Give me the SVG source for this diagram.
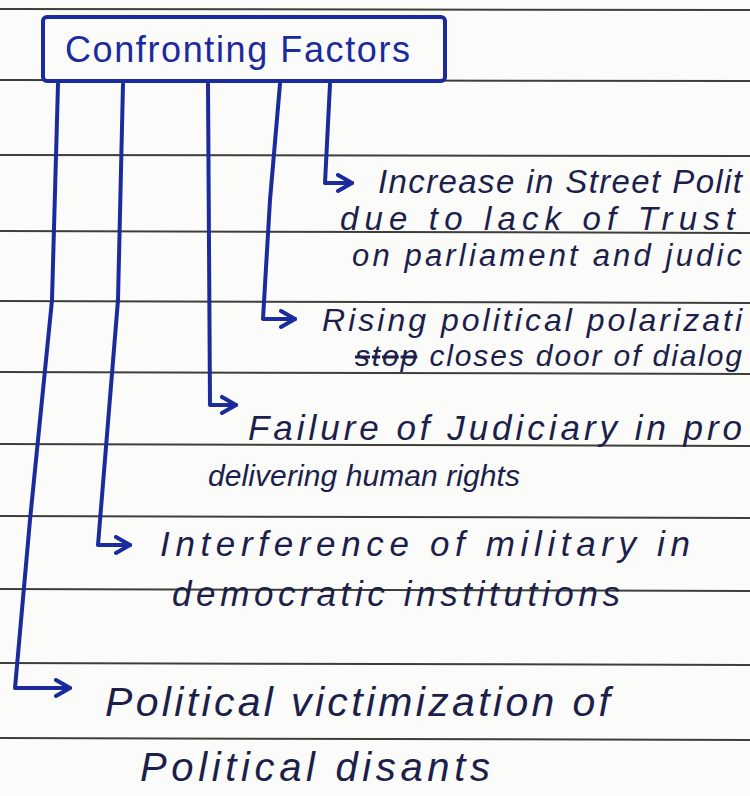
<svg xmlns="http://www.w3.org/2000/svg" width="750" height="796" viewBox="0 0 750 796">
<defs>
<style>
.rule{stroke:#3f3f3a;stroke-width:2;}
.ink{font-family:"Liberation Sans","DejaVu Sans",sans-serif;font-style:italic;fill:#1c1f4a;}
.conn{fill:none;stroke:#1b2a9c;stroke-width:4;stroke-linecap:round;stroke-linejoin:round;}
.title{font-family:"Liberation Sans","DejaVu Sans",sans-serif;fill:#1b2a9c;font-size:36px;}
</style>
<marker id="arr" markerUnits="userSpaceOnUse" markerWidth="24" markerHeight="24" refX="16" refY="10" orient="auto">
<path d="M2,2 L16,10 L2,18" fill="none" stroke="#1b2a9c" stroke-width="4" stroke-linecap="round" stroke-linejoin="round"/>
</marker>
</defs>
<rect width="750" height="796" fill="#fbfbfa"/>
<g id="ruling">
<line class="rule" x1="0" y1="9" x2="750" y2="10"/>
<line class="rule" x1="0" y1="80" x2="750" y2="81"/>
<line class="rule" x1="0" y1="155" x2="750" y2="156"/>
<line class="rule" x1="0" y1="231" x2="750" y2="233"/>
<line class="rule" x1="0" y1="301" x2="750" y2="303"/>
<line class="rule" x1="0" y1="372" x2="750" y2="374"/>
<line class="rule" x1="0" y1="444" x2="750" y2="446"/>
<line class="rule" x1="0" y1="516" x2="750" y2="518"/>
<line class="rule" x1="0" y1="589" x2="750" y2="591"/>
<line class="rule" x1="0" y1="663" x2="750" y2="665"/>
<line class="rule" x1="0" y1="738" x2="750" y2="740"/>
</g>
<g id="connectors">
<path class="conn" d="M58,84 L52,300 L30,520 L15,688 L70,688" marker-end="url(#arr)"/>
<path class="conn" d="M123,84 L118,300 L98,545 L130,545" marker-end="url(#arr)"/>
<path class="conn" d="M208,84 L210,405 L236,405" marker-end="url(#arr)"/>
<path class="conn" d="M280,84 L270,200 L263,319 L295,319" marker-end="url(#arr)"/>
<path class="conn" d="M330,84 L325,183 L352,183" marker-end="url(#arr)"/>
</g>
<g id="title">
<rect x="43" y="17" width="402" height="64" rx="4" fill="#fbfbfa" stroke="#1b2a9c" stroke-width="4"/>
<text class="title" x="65" y="62" textLength="345" lengthAdjust="spacing">Confronting Factors</text>
</g>
<g id="street-politics">
<text class="ink" font-size="33" x="378" y="193" textLength="364" lengthAdjust="spacing">Increase in Street Polit</text>
<text class="ink" font-size="33" x="340" y="230" textLength="395" lengthAdjust="spacing">due to lack of Trust</text>
<text class="ink" font-size="31" x="352" y="266" textLength="390" lengthAdjust="spacing">on parliament and judic</text>
</g>
<g id="polarization">
<text class="ink" font-size="32" x="322" y="331" textLength="420" lengthAdjust="spacing">Rising political polarizati</text>
<text class="ink" font-size="30" x="355" y="366" textLength="387" lengthAdjust="spacing"><tspan text-decoration="line-through">stop</tspan> closes door of dialog</text>
</g>
<g id="judiciary">
<text class="ink" font-size="35" x="248" y="440" textLength="494" lengthAdjust="spacing">Failure of Judiciary in pro</text>
<text class="ink" font-size="30" x="208" y="486" textLength="312" lengthAdjust="spacing">delivering human rights</text>
</g>
<g id="military">
<text class="ink" font-size="35" x="160" y="556" textLength="530" lengthAdjust="spacing">Interference of military in</text>
<text class="ink" font-size="35" x="172" y="606" textLength="448" lengthAdjust="spacing">democratic institutions</text>
</g>
<g id="victimization">
<text class="ink" font-size="41" x="105" y="716" textLength="505" lengthAdjust="spacing">Political victimization of</text>
<text class="ink" font-size="40" x="140" y="781" textLength="350" lengthAdjust="spacing">Political disants</text>
</g>
</svg>
